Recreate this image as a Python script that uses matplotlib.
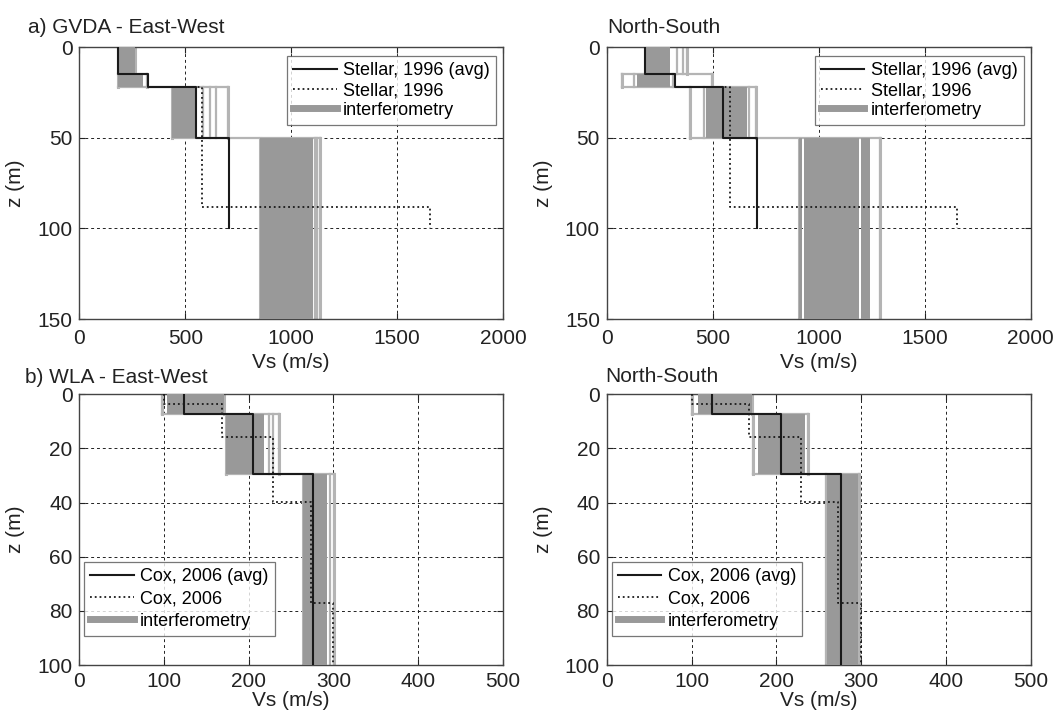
import matplotlib
matplotlib.use("Agg")
import matplotlib.pyplot as plt
import numpy as np
from matplotlib.lines import Line2D

plt.rcParams['font.family'] = ['Liberation Sans', 'DejaVu Sans']

# reference profiles: layer boundaries (m) and Vs per layer (m/s)
stellar_avg_z = [0, 15, 22, 50, 100]
stellar_avg_vs = [181, 323, 550, 708]
stellar_z = [0, 15, 22, 88, 100]
stellar_vs = [181, 323, 580, 1655]

cox_avg_z = [0, 7.3, 29.6, 100]
cox_avg_vs = [124, 205, 276]
cox_z = [0, 3.7, 15.8, 39.7, 77.2, 100]
cox_vs = [100, 168, 229, 273, 300]

# interferometry results: per layer, dense ranges (lo, hi) and isolated profiles
gvda_z = [0, 15, 22, 50, 150]
gvda_ew_bands = [[(181, 265)], [(181, 300)], [(438, 552)], [(852, 1103)]]
gvda_ew_lines = [[], [318], [583, 615, 646, 700], [1112, 1124, 1135]]
gvda_ns_bands = [[(185, 299)], [(140, 300)], [(470, 660)],
                 [(907, 922), (932, 1190), (1200, 1240)]]
gvda_ns_lines = [[330, 358, 377], [71, 130, 313, 495], [393, 460, 672, 703], [1289]]

wla_z = [0, 7.3, 29.6, 100]
wla_ew_bands = [[(104, 171)], [(173, 218)], [(264, 292)]]
wla_ew_lines = [[98], [224, 229, 236], [296, 301]]
wla_ns_bands = [[(107, 171)], [(178, 234)], [(260, 296)]]
wla_ns_lines = [[100], [172, 237], [258, 298]]

DARK = '#999999'
LIGHT = '#b4b4b4'
FS = 15


def step_xy(z, vs):
    x = np.repeat(vs, 2)
    y = np.column_stack([z[:-1], z[1:]]).ravel()
    return x, y


def draw_interf(ax, z, bands, lines):
    n = len(bands)
    lims = []
    for i in range(n):
        vals = [v for b in bands[i] for v in b] + lines[i]
        lims.append((min(vals), max(vals)))
        for v in lims[i]:
            ax.plot([v, v], [z[i], z[i + 1]], color=LIGHT, lw=2.2, zorder=2)
        for b in bands[i]:
            ax.fill_betweenx([z[i], z[i + 1]], b[0], b[1], color=DARK, lw=0, zorder=3)
        for v in lines[i]:
            ax.plot([v, v], [z[i], z[i + 1]], color=LIGHT, lw=1.6, zorder=2)
    # horizontal connectors at layer interfaces
    for i in range(n):
        if i == 0:
            lo, hi = lims[0]
        else:
            lo = min(lims[i - 1][0], lims[i][0])
            hi = max(lims[i - 1][1], lims[i][1])
        ax.plot([lo, hi], [z[i], z[i]], color=LIGHT, lw=1.6, zorder=2)


def setup(ax, xmax, xstep, zmax, zstep, xpad, xlabelpad):
    ax.set_xlim(0, xmax)
    ax.set_ylim(zmax, 0)
    ax.set_xticks(np.arange(0, xmax + 1, xstep))
    ax.set_yticks(np.arange(0, zmax + 1, zstep))
    ax.set_axisbelow(True)
    ax.grid(True, color='#222222', lw=0.7, linestyle=(0, (3, 3)))
    ax.tick_params(direction='in', length=4, top=True, right=True,
                   labelsize=FS, colors='#222222', pad=5)
    ax.tick_params(axis='x', pad=xpad)
    for s in ax.spines.values():
        s.set_color('#444444')
        s.set_linewidth(1.0)
    ax.set_xlabel('Vs (m/s)', fontsize=FS, color='#222222', labelpad=xlabelpad)
    ax.set_ylabel('z (m)', fontsize=FS, color='#222222', labelpad=8.5)


def legend(ax, names, **kw):
    handles = [Line2D([], [], color='#1a1a1a', lw=1.5),
               Line2D([], [], color='#1a1a1a', lw=1.3, linestyle=':'),
               Line2D([], [], color=DARK, lw=5)]
    leg = ax.legend(handles, names, fontsize=13, frameon=True, fancybox=False,
                    handlelength=2.4, handletextpad=0.35, borderpad=0.35,
                    borderaxespad=0, **kw)
    leg.get_frame().set_edgecolor('#555555')
    leg.get_frame().set_linewidth(0.9)
    leg.set_zorder(10)


fig = plt.figure(figsize=(10.55, 7.15), dpi=100)
ax1 = fig.add_axes([0.0752, 0.5538, 0.4015, 0.3804])
ax2 = fig.add_axes([0.5753, 0.5538, 0.4015, 0.3804])
ax3 = fig.add_axes([0.0752, 0.0699, 0.4015, 0.3786])
ax4 = fig.add_axes([0.5753, 0.0699, 0.4015, 0.3786])

stellar_names = ['Stellar, 1996 (avg)', 'Stellar, 1996', 'interferometry']
cox_names = ['Cox, 2006 (avg)', 'Cox, 2006', 'interferometry']

for ax, bands, lines in [(ax1, gvda_ew_bands, gvda_ew_lines),
                         (ax2, gvda_ns_bands, gvda_ns_lines)]:
    setup(ax, 2000, 500, 150, 50, 7, 4)
    draw_interf(ax, gvda_z, bands, lines)
    x, y = step_xy(stellar_z, stellar_vs)
    ax.plot(x, y, color='#1a1a1a', lw=1.3, linestyle=':', zorder=5)
    x, y = step_xy(stellar_avg_z, stellar_avg_vs)
    ax.plot(x, y, color='#1a1a1a', lw=1.5, zorder=6)
    legend(ax, stellar_names, loc='upper right', bbox_to_anchor=(0.984, 0.967),
           labelspacing=0.15)

for ax, bands, lines in [(ax3, wla_ew_bands, wla_ew_lines),
                         (ax4, wla_ns_bands, wla_ns_lines)]:
    setup(ax, 500, 100, 100, 20, 5, 0)
    draw_interf(ax, wla_z, bands, lines)
    x, y = step_xy(cox_z, cox_vs)
    ax.plot(x, y, color='#1a1a1a', lw=1.3, linestyle=':', zorder=5)
    x, y = step_xy(cox_avg_z, cox_avg_vs)
    ax.plot(x, y, color='#1a1a1a', lw=1.5, zorder=6)
    legend(ax, cox_names, loc='lower left', bbox_to_anchor=(0.011, 0.107),
           labelspacing=0.3)

fig.text(28 / 1055, 1 - 33 / 715, 'a) GVDA - East-West', fontsize=FS, color='#222222')
fig.text(607 / 1055, 1 - 33 / 715, 'North-South', fontsize=FS, color='#222222')
fig.text(25 / 1055, 1 - 383 / 715, 'b) WLA - East-West', fontsize=FS, color='#222222')
fig.text(605 / 1055, 1 - 382 / 715, 'North-South', fontsize=FS, color='#222222')

fig.savefig('out.png', dpi=100)
